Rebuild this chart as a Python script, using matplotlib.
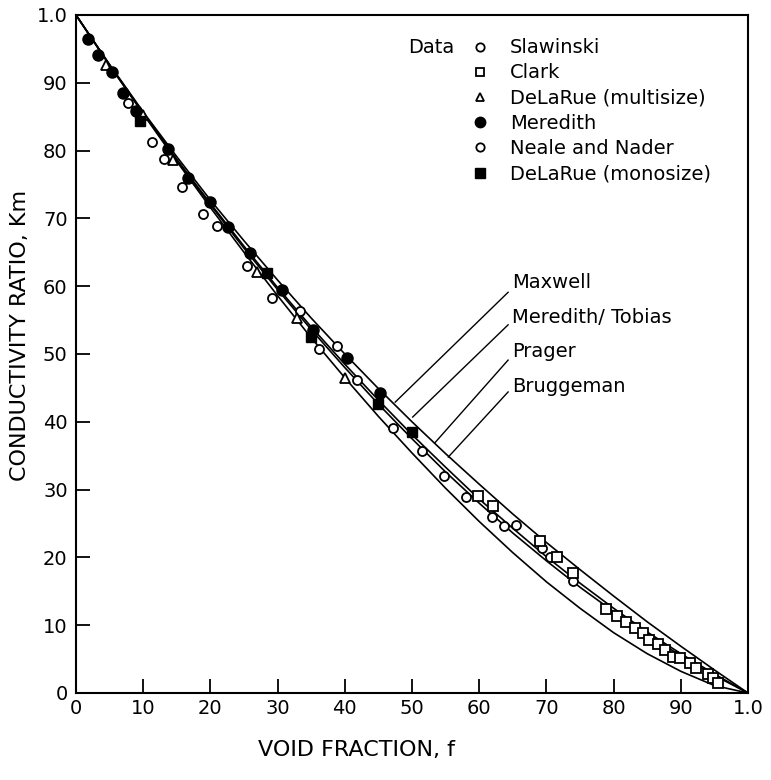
import matplotlib
matplotlib.use("Agg")
import matplotlib.pyplot as plt

# ---------------- data ----------------
f_grid = [0.0, 0.05, 0.1, 0.15, 0.2, 0.25, 0.3, 0.35, 0.4, 0.45, 0.5,
          0.55, 0.6, 0.65, 0.7, 0.75, 0.8, 0.85, 0.9, 0.95, 1.0]
maxwell = [1.0, 0.927, 0.857, 0.791, 0.727, 0.667, 0.609, 0.553, 0.500, 0.449, 0.400,
           0.353, 0.308, 0.264, 0.222, 0.182, 0.143, 0.105, 0.069, 0.034, 0.0]
meredith_tobias = [1.0, 0.926, 0.856, 0.787, 0.722, 0.659, 0.598, 0.540, 0.485, 0.432, 0.381,
                   0.333, 0.286, 0.243, 0.201, 0.162, 0.125, 0.090, 0.058, 0.028, 0.0]
prager = [1.0, 0.926, 0.855, 0.786, 0.720, 0.656, 0.595, 0.536, 0.480, 0.426, 0.375,
          0.326, 0.280, 0.236, 0.195, 0.156, 0.120, 0.086, 0.055, 0.026, 0.0]
bruggeman = [1.0, 0.926, 0.854, 0.784, 0.716, 0.650, 0.586, 0.524, 0.465, 0.408, 0.354,
             0.302, 0.253, 0.207, 0.164, 0.125, 0.089, 0.058, 0.032, 0.011, 0.0]

slawinski_f = [0.077, 0.113, 0.131, 0.158, 0.189, 0.254, 0.333, 0.362, 0.388, 0.418,
               0.472, 0.515, 0.548, 0.580]
slawinski_k = [0.870, 0.813, 0.788, 0.746, 0.706, 0.630, 0.563, 0.507, 0.512, 0.462,
               0.391, 0.357, 0.320, 0.289]

neale_f = [0.210, 0.292, 0.619, 0.637, 0.655, 0.693, 0.705, 0.740]
neale_k = [0.689, 0.583, 0.260, 0.246, 0.248, 0.214, 0.201, 0.165]

clark_f = [0.598, 0.621, 0.690, 0.716, 0.740, 0.789, 0.805, 0.818, 0.832, 0.844,
           0.853, 0.866, 0.876, 0.888, 0.899, 0.914, 0.923, 0.940, 0.948, 0.955]
clark_k = [0.291, 0.276, 0.224, 0.201, 0.177, 0.124, 0.114, 0.105, 0.096, 0.088,
           0.078, 0.072, 0.063, 0.053, 0.052, 0.044, 0.037, 0.028, 0.022, 0.015]

multi_f = [0.045, 0.100, 0.144, 0.269, 0.329, 0.400]
multi_k = [0.926, 0.853, 0.786, 0.621, 0.553, 0.465]

meredith_f = [0.018, 0.033, 0.054, 0.070, 0.089, 0.137, 0.167, 0.199, 0.226, 0.259,
              0.307, 0.353, 0.403, 0.452]
meredith_k = [0.965, 0.941, 0.916, 0.885, 0.858, 0.802, 0.760, 0.724, 0.687, 0.649,
              0.594, 0.535, 0.494, 0.443]

mono_f = [0.095, 0.284, 0.350, 0.449, 0.500]
mono_k = [0.844, 0.619, 0.525, 0.426, 0.385]

tick_vals = [0.0, 0.1, 0.2, 0.3, 0.4, 0.5, 0.6, 0.7, 0.8, 0.9, 1.0]
tick_labels = ["0", "10", "20", "30", "40", "50", "60", "70", "80", "90", "1.0"]

legend_names = ["Slawinski", "Clark", "DeLaRue (multisize)", "Meredith",
                "Neale and Nader", "DeLaRue (monosize)"]
curve_names = ["Maxwell", "Meredith/ Tobias", "Prager", "Bruggeman"]

# ---------------- figure ----------------
fig = plt.figure(figsize=(7.71, 7.80), dpi=100)
ax = fig.add_axes([76/771, 1-693/780, 672/771, 678/780])
ax.set_xlim(0, 1)
ax.set_ylim(0, 1)

lw = 1.2
for ys in (maxwell, meredith_tobias, prager, bruggeman):
    ax.plot(f_grid, ys, color="black", lw=lw, zorder=2)

styles = {
    "open": dict(marker="o", ms=6.5, mfc="white", mec="black", mew=1.3, ls="none"),
    "square": dict(marker="s", ms=6.5, mfc="white", mec="black", mew=1.3, ls="none"),
    "tri": dict(marker="^", ms=6.5, mfc="white", mec="black", mew=1.3, ls="none"),
    "filled": dict(marker="o", ms=8, mfc="black", mec="black", mew=1.0, ls="none"),
    "fsquare": dict(marker="s", ms=7.5, mfc="black", mec="black", mew=1.0, ls="none"),
}

ax.plot(slawinski_f, slawinski_k, zorder=3, **styles["open"])
ax.plot(neale_f, neale_k, zorder=3, **styles["open"])
ax.plot(clark_f, clark_k, zorder=3, **styles["square"])
ax.plot(multi_f, multi_k, zorder=3, **styles["tri"])
ax.plot(meredith_f, meredith_k, zorder=4, **styles["filled"])
ax.plot(mono_f, mono_k, zorder=4, **styles["fsquare"])

# legend (manual)
fs = 14
ax.text(0.494, 0.944, "Data", fontsize=fs, va="baseline", ha="left")
leg_marker_y = [0.953, 0.916, 0.879, 0.842, 0.805, 0.767]
leg_text_y = [0.944, 0.907, 0.870, 0.832, 0.795, 0.758]
leg_styles = ["open", "square", "tri", "filled", "open", "fsquare"]
for name, my, ty, st in zip(legend_names, leg_marker_y, leg_text_y, leg_styles):
    kw = dict(styles[st])
    kw["ms"] = kw["ms"] - 0.5
    ax.plot([0.601], [my], **kw)
    ax.text(0.646, ty, name, fontsize=fs, va="baseline", ha="left")

# curve labels with leader lines
label_y = [0.597, 0.546, 0.496, 0.444]
leader_start = [(0.643, 0.591), (0.643, 0.543), (0.643, 0.491), (0.643, 0.444)]
leader_end = [(0.475, 0.429), (0.501, 0.407), (0.534, 0.369), (0.554, 0.348)]
for name, ly, s, e in zip(curve_names, label_y, leader_start, leader_end):
    ax.text(0.649, ly, name, fontsize=fs, va="baseline", ha="left")
    ax.plot([s[0], e[0]], [s[1], e[1]], color="black", lw=1.0)

# axes styling
for sp in ax.spines.values():
    sp.set_linewidth(1.5)
ax.set_xticks(tick_vals)
ax.set_xticklabels(tick_labels)
ax.set_yticks(tick_vals)
ax.set_yticklabels(tick_labels)
ax.tick_params(axis="both", direction="in", length=10, width=1.3, labelsize=14)
ax.tick_params(axis="x", pad=4)
ax.tick_params(axis="y", pad=6)
for t in ax.xaxis.get_major_ticks() + ax.yaxis.get_major_ticks():
    t.tick2line.set_visible(False)

fig.text(20/771, 1-335/780, "CONDUCTIVITY RATIO, Km", rotation=90, fontsize=16,
         ha="center", va="center")
fig.text(356/771, 1-750/780, "VOID FRACTION, f", fontsize=16, ha="center", va="center")

fig.savefig("out.png", dpi=100)
